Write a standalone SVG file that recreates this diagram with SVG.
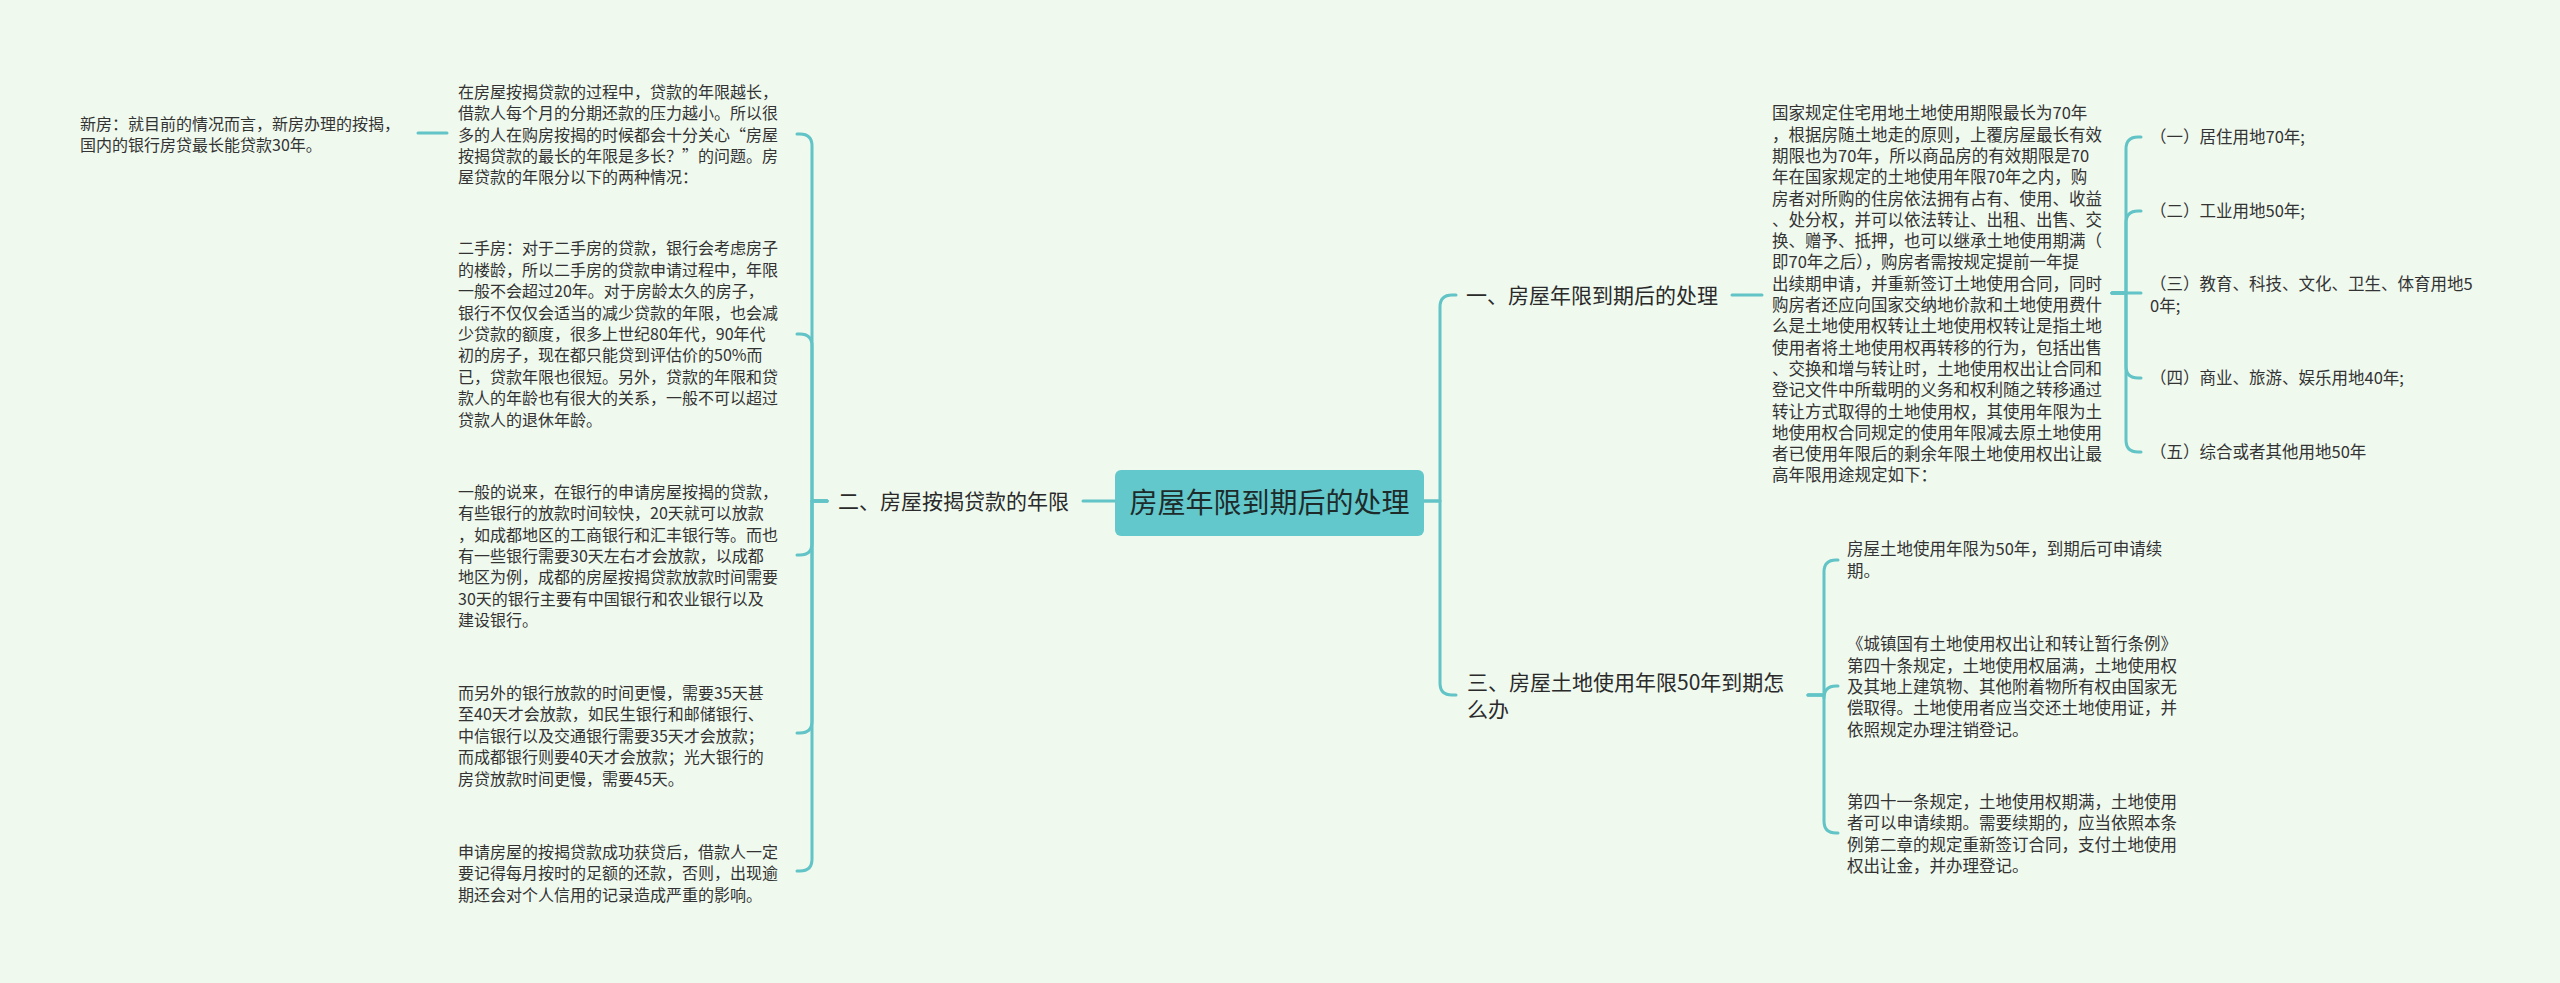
<svg xmlns="http://www.w3.org/2000/svg" width="2560" height="983" viewBox="0 0 2560 983">
<style>
text{font-family:"Noto Sans CJK SC","Noto Sans",sans-serif;fill:#333333}
.l{font-size:16px}
.r{font-size:16.5px}
.b{font-size:21px;fill:#2a2a2a}
.c{font-size:28px;fill:#1e2b2b}
.e{fill:none;stroke:#62c4c6;stroke-width:3;stroke-linecap:round;stroke-linejoin:round}
</style>
<rect width="2560" height="983" fill="#eff9ee"/>
<g id="connectors">
<path class="e" d="M1083,501 H1115"/>
<path class="e" d="M827,501 H812 V146 Q812,134 800,134 H797"/>
<path class="e" d="M827,501 H812 V346 Q812,334 800,334 H797"/>
<path class="e" d="M827,501 H812 V543 Q812,555 800,555 H797"/>
<path class="e" d="M827,501 H812 V721 Q812,733 800,733 H797"/>
<path class="e" d="M827,501 H812 V859 Q812,871 800,871 H797"/>
<path class="e" d="M418,133 H447"/>
<path class="e" d="M1424,501 H1440 V307 Q1440,295 1452,295 H1456"/>
<path class="e" d="M1424,501 H1440 V683 Q1440,695 1452,695 H1456"/>
<path class="e" d="M1732,295 H1762"/>
<path class="e" d="M2112,293 H2126 V149 Q2126,137 2138,137 H2141"/>
<path class="e" d="M2112,293 H2126 V223 Q2126,211 2138,211 H2141"/>
<path class="e" d="M2112,293 H2141"/>
<path class="e" d="M2112,293 H2126 V366 Q2126,378 2138,378 H2141"/>
<path class="e" d="M2112,293 H2126 V440 Q2126,452 2138,452 H2141"/>
<path class="e" d="M1808,695 H1824 V572 Q1824,560 1836,560 H1838"/>
<path class="e" d="M1808,695 H1824 M1824,698 Q1824,686 1836,686 H1838"/>
<path class="e" d="M1808,695 H1824 V821 Q1824,833 1836,833 H1838"/>
</g>
<g id="root">
<rect x="1115" y="470" width="309" height="66" rx="6" fill="#62c8cb"/>
<text class="c" x="1269.5" y="512.5" text-anchor="middle">房屋年限到期后的处理</text>
</g>
<g id="branch2">
<text class="b" x="838" y="509">二、房屋按揭贷款的年限</text>
</g>
<g id="b2c1">
<text class="l"><tspan x="458" y="97.7">在房屋按揭贷款的过程中，贷款的年限越长，</tspan><tspan x="458" y="119.1">借款人每个月的分期还款的压力越小。所以很</tspan><tspan x="458" y="140.5">多的人在购房按揭的时候都会十分关心“房屋</tspan><tspan x="458" y="161.9">按揭贷款的最长的年限是多长？”的问题。房</tspan><tspan x="458" y="183.3">屋贷款的年限分以下的两种情况：</tspan></text>
</g>
<g id="b2c1a">
<text class="l"><tspan x="80" y="130">新房：就目前的情况而言，新房办理的按揭，</tspan><tspan x="80" y="151.4">国内的银行房贷最长能贷款30年。</tspan></text>
</g>
<g id="b2c2">
<text class="l"><tspan x="458" y="254.4">二手房：对于二手房的贷款，银行会考虑房子</tspan><tspan x="458" y="275.8">的楼龄，所以二手房的贷款申请过程中，年限</tspan><tspan x="458" y="297.2">一般不会超过20年。对于房龄太久的房子，</tspan><tspan x="458" y="318.6">银行不仅仅会适当的减少贷款的年限，也会减</tspan><tspan x="458" y="340">少贷款的额度，很多上世纪80年代，90年代</tspan><tspan x="458" y="361.4">初的房子，现在都只能贷到评估价的50%而</tspan><tspan x="458" y="382.8">已，贷款年限也很短。另外，贷款的年限和贷</tspan><tspan x="458" y="404.2">款人的年龄也有很大的关系，一般不可以超过</tspan><tspan x="458" y="425.6">贷款人的退休年龄。</tspan></text>
</g>
<g id="b2c3">
<text class="l"><tspan x="458" y="497.8">一般的说来，在银行的申请房屋按揭的贷款，</tspan><tspan x="458" y="519.2">有些银行的放款时间较快，20天就可以放款</tspan><tspan x="458" y="540.6">，如成都地区的工商银行和汇丰银行等。而也</tspan><tspan x="458" y="562">有一些银行需要30天左右才会放款，以成都</tspan><tspan x="458" y="583.4">地区为例，成都的房屋按揭贷款放款时间需要</tspan><tspan x="458" y="604.8">30天的银行主要有中国银行和农业银行以及</tspan><tspan x="458" y="626.2">建设银行。</tspan></text>
</g>
<g id="b2c4">
<text class="l"><tspan x="458" y="698.9">而另外的银行放款的时间更慢，需要35天甚</tspan><tspan x="458" y="720.3">至40天才会放款，如民生银行和邮储银行、</tspan><tspan x="458" y="741.7">中信银行以及交通银行需要35天才会放款；</tspan><tspan x="458" y="763.1">而成都银行则要40天才会放款；光大银行的</tspan><tspan x="458" y="784.5">房贷放款时间更慢，需要45天。</tspan></text>
</g>
<g id="b2c5">
<text class="l"><tspan x="458" y="857.7">申请房屋的按揭贷款成功获贷后，借款人一定</tspan><tspan x="458" y="879.1">要记得每月按时的足额的还款，否则，出现逾</tspan><tspan x="458" y="900.5">期还会对个人信用的记录造成严重的影响。</tspan></text>
</g>
<g id="branch1">
<text class="b" x="1466" y="303">一、房屋年限到期后的处理</text>
</g>
<g id="b1c1">
<text class="r"><tspan x="1772" y="119.3">国家规定住宅用地土地使用期限最长为70年</tspan><tspan x="1772" y="140.6">，根据房随土地走的原则，上覆房屋最长有效</tspan><tspan x="1772" y="161.9">期限也为70年，所以商品房的有效期限是70</tspan><tspan x="1772" y="183.2">年在国家规定的土地使用年限70年之内，购</tspan><tspan x="1772" y="204.5">房者对所购的住房依法拥有占有、使用、收益</tspan><tspan x="1772" y="225.8">、处分权，并可以依法转让、出租、出售、交</tspan><tspan x="1772" y="247.1">换、赠予、抵押，也可以继承土地使用期满（</tspan><tspan x="1772" y="268.4">即70年之后），购房者需按规定提前一年提</tspan><tspan x="1772" y="289.7">出续期申请，并重新签订土地使用合同，同时</tspan><tspan x="1772" y="311">购房者还应向国家交纳地价款和土地使用费什</tspan><tspan x="1772" y="332.3">么是土地使用权转让土地使用权转让是指土地</tspan><tspan x="1772" y="353.6">使用者将土地使用权再转移的行为，包括出售</tspan><tspan x="1772" y="374.9">、交换和增与转让时，土地使用权出让合同和</tspan><tspan x="1772" y="396.2">登记文件中所载明的义务和权利随之转移通过</tspan><tspan x="1772" y="417.5">转让方式取得的土地使用权，其使用年限为土</tspan><tspan x="1772" y="438.8">地使用权合同规定的使用年限减去原土地使用</tspan><tspan x="1772" y="460.1">者已使用年限后的剩余年限土地使用权出让最</tspan><tspan x="1772" y="481.4">高年限用途规定如下：</tspan></text>
</g>
<g id="b1c1a">
<text class="r" x="2150" y="143.3">（一）居住用地70年;</text>
</g>
<g id="b1c1b">
<text class="r" x="2150" y="217.3">（二）工业用地50年;</text>
</g>
<g id="b1c1c">
<text class="r"><tspan x="2150" y="290.3">（三）教育、科技、文化、卫生、体育用地5</tspan><tspan x="2150" y="311.6">0年;</tspan></text>
</g>
<g id="b1c1d">
<text class="r" x="2150" y="384.3">（四）商业、旅游、娱乐用地40年;</text>
</g>
<g id="b1c1e">
<text class="r" x="2150" y="458.3">（五）综合或者其他用地50年</text>
</g>
<g id="branch3">
<text class="b"><tspan x="1467" y="690">三、房屋土地使用年限50年到期怎</tspan><tspan x="1467" y="717">么办</tspan></text>
</g>
<g id="b3c1">
<text class="r"><tspan x="1847" y="555.3">房屋土地使用年限为50年，到期后可申请续</tspan><tspan x="1847" y="576.6">期。</tspan></text>
</g>
<g id="b3c2">
<text class="r"><tspan x="1847" y="650.3">《城镇国有土地使用权出让和转让暂行条例》</tspan><tspan x="1847" y="671.6">第四十条规定，土地使用权届满，土地使用权</tspan><tspan x="1847" y="692.9">及其地上建筑物、其他附着物所有权由国家无</tspan><tspan x="1847" y="714.2">偿取得。土地使用者应当交还土地使用证，并</tspan><tspan x="1847" y="735.5">依照规定办理注销登记。</tspan></text>
</g>
<g id="b3c3">
<text class="r"><tspan x="1847" y="808">第四十一条规定，土地使用权期满，土地使用</tspan><tspan x="1847" y="829.3">者可以申请续期。需要续期的，应当依照本条</tspan><tspan x="1847" y="850.6">例第二章的规定重新签订合同，支付土地使用</tspan><tspan x="1847" y="871.9">权出让金，并办理登记。</tspan></text>
</g>
</svg>
